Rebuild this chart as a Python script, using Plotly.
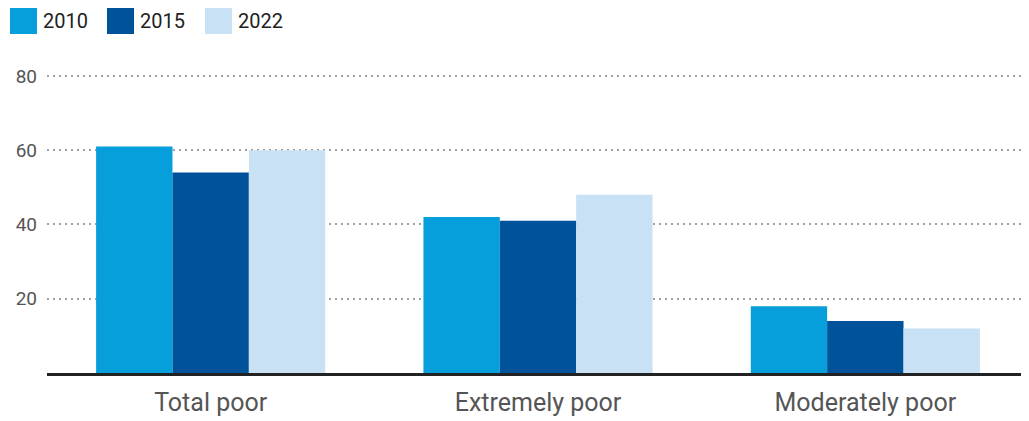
import plotly.graph_objects as go

categories = ["Total poor", "Extremely poor", "Moderately poor"]
years = ["2010", "2015", "2022"]
values_2010 = [61, 42, 18]
values_2015 = [54, 41, 14]
values_2022 = [60, 48, 12]
colors = ["#069fdb", "#00529b", "#c8e1f4"]
y_ticks = [20, 40, 60, 80]

FONT = "Roboto, Arial, sans-serif"
OFF = 8  # default page body margin offsets the figure by 8px
W, H = 1029 - OFF, 421 - OFF
ML, MR, MT, MB = 47 - OFF, 0, 74 - OFF, 48
PW, PH = W - ML - MR, H - MT - MB


def px_x(px):
    return (px - OFF - ML) / PW


def px_y(py):
    return (H - MB - (py - OFF)) / PH


fig = go.Figure()
for name, vals, col in zip(years, [values_2010, values_2015, values_2022], colors):
    fig.add_trace(go.Bar(x=categories, y=vals, name=name, marker_color=col,
                         marker_line_width=0, showlegend=False))

# legend drawn as squares + labels (larger swatches than the native legend)
legend_left = [10, 107, 205]
for name, col, lx in zip(years, colors, legend_left):
    fig.add_shape(type="rect", xref="paper", yref="paper",
                  x0=px_x(lx), x1=px_x(lx + 27), y0=px_y(34), y1=px_y(7),
                  fillcolor=col, line_width=0)
    fig.add_annotation(xref="paper", yref="paper", x=px_x(lx + 31), y=px_y(21),
                       text=name, showarrow=False, xanchor="left", yanchor="middle",
                       font=dict(size=20, color="#222222", family=FONT))

fig.update_layout(
    width=W, height=H,
    margin=dict(l=ML, r=MR, t=MT, b=MB, autoexpand=False),
    paper_bgcolor="white", plot_bgcolor="white",
    barmode="group", bargap=0.3, bargroupgap=0,
    font=dict(family=FONT, color="#555555"),
    showlegend=False,
)
fig.update_xaxes(showgrid=False, showline=True, linecolor="#222222", linewidth=3,
                 ticks="", tickfont=dict(size=25, color="#555555"), zeroline=False,
                 ticklabelstandoff=5)
fig.update_yaxes(range=[0, 80.5], tickvals=y_ticks, showgrid=True, gridcolor="#a0a0a0",
                 griddash="2px,4px", gridwidth=2, zeroline=False, showline=False,
                 tickfont=dict(size=19, color="#555555"), ticklabelstandoff=9)

fig.write_html("out.html")
